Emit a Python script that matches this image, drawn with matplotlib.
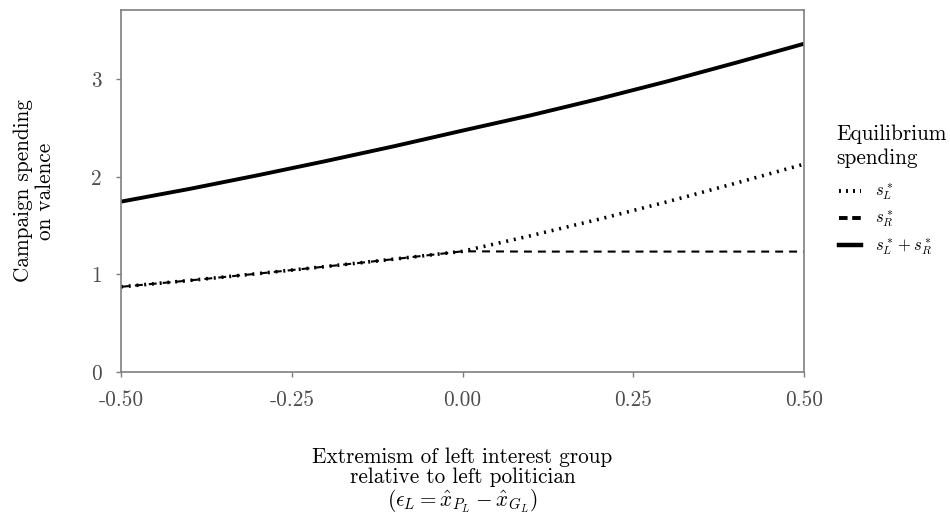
import matplotlib
matplotlib.use("Agg")
import matplotlib.pyplot as plt
from matplotlib.lines import Line2D

plt.rcParams['font.family'] = 'cmr10'
plt.rcParams['mathtext.fontset'] = 'cm'
plt.rcParams['axes.unicode_minus'] = False
plt.rcParams['axes.formatter.use_mathtext'] = True

# Werte
eps = [-0.5, -0.4, -0.3, -0.2, -0.1, 0.0, 0.1, 0.2, 0.3, 0.4, 0.5]
s_left = [0.873, 0.938, 1.008, 1.081, 1.157, 1.237, 1.397, 1.566, 1.745, 1.935, 2.13]
s_right = [0.873, 0.938, 1.008, 1.081, 1.157, 1.237, 1.234, 1.234, 1.234, 1.234, 1.234]
s_total = [1.746, 1.876, 2.016, 2.162, 2.314, 2.474, 2.631, 2.80, 2.979, 3.169, 3.364]

xticks = [-0.5, -0.25, 0.0, 0.25, 0.5]
xticklabels = ["-0.50", "-0.25", "0.00", "0.25", "0.50"]
yticks = [0, 1, 2, 3]
yticklabels = ["0", "1", "2", "3"]

grey = "#7f7f7f"
tick_grey = "#4d4d4d"
fs = 15.3

fig = plt.figure(figsize=(9.5, 5.16), dpi=100)
ax = fig.add_axes([121 / 950, 1 - 372 / 516, 683 / 950, 362 / 516])

ax.plot(eps, s_right, color="black", lw=1.5, linestyle=(0, (3.8, 2.9)), dash_capstyle="butt")
ax.plot(eps, s_left, color="black", lw=2.6, linestyle=(0, (0.55, 1.6)), dash_capstyle="butt")
ax.plot(eps, s_total, color="black", lw=2.8, solid_capstyle="butt")

ax.set_xlim(-0.5, 0.5)
ax.set_ylim(0, 3.71)
ax.set_xticks(xticks)
ax.set_xticklabels(xticklabels)
ax.set_yticks(yticks)
ax.set_yticklabels(yticklabels)
ax.tick_params(colors=grey, labelcolor=tick_grey, labelsize=fs, length=3.6, width=1, pad=10)
for sp in ax.spines.values():
    sp.set_color(grey)
    sp.set_linewidth(1.2)

ax.set_xlabel("Extremism of left interest group\nrelative to left politician\n"
              r"($\epsilon_L = \hat{x}_{P_L} - \hat{x}_{G_L}$)",
              fontsize=fs, labelpad=27, linespacing=1.03)
ax.set_ylabel("Campaign spending\non valence", fontsize=fs, labelpad=26, linespacing=1.15)

# Legende (Titel separat, damit der Abstand stimmt)
fig.text(836 / 950, 1 - 124 / 516, "Equilibrium\nspending", fontsize=fs,
         ha="left", va="top", linespacing=1.3)
handles = [
    Line2D([], [], color="black", lw=2.8, linestyle=(0, (0.5, 1.3)), dash_capstyle="butt"),
    Line2D([], [], color="black", lw=2.8, linestyle=(0, (2.2, 1.2)), dash_capstyle="butt"),
    Line2D([], [], color="black", lw=3.2),
]
labels = [r"$s_L^*$", r"$s_R^*$", r"$s_L^* + s_R^*$"]
fig.legend(handles, labels, loc="upper left", bbox_to_anchor=(839 / 950, 1 - 182 / 516),
           frameon=False, fontsize=12, handlelength=1.32, handletextpad=0.85,
           labelspacing=0.38, borderpad=0, borderaxespad=0)

fig.savefig("out.png", dpi=100)
